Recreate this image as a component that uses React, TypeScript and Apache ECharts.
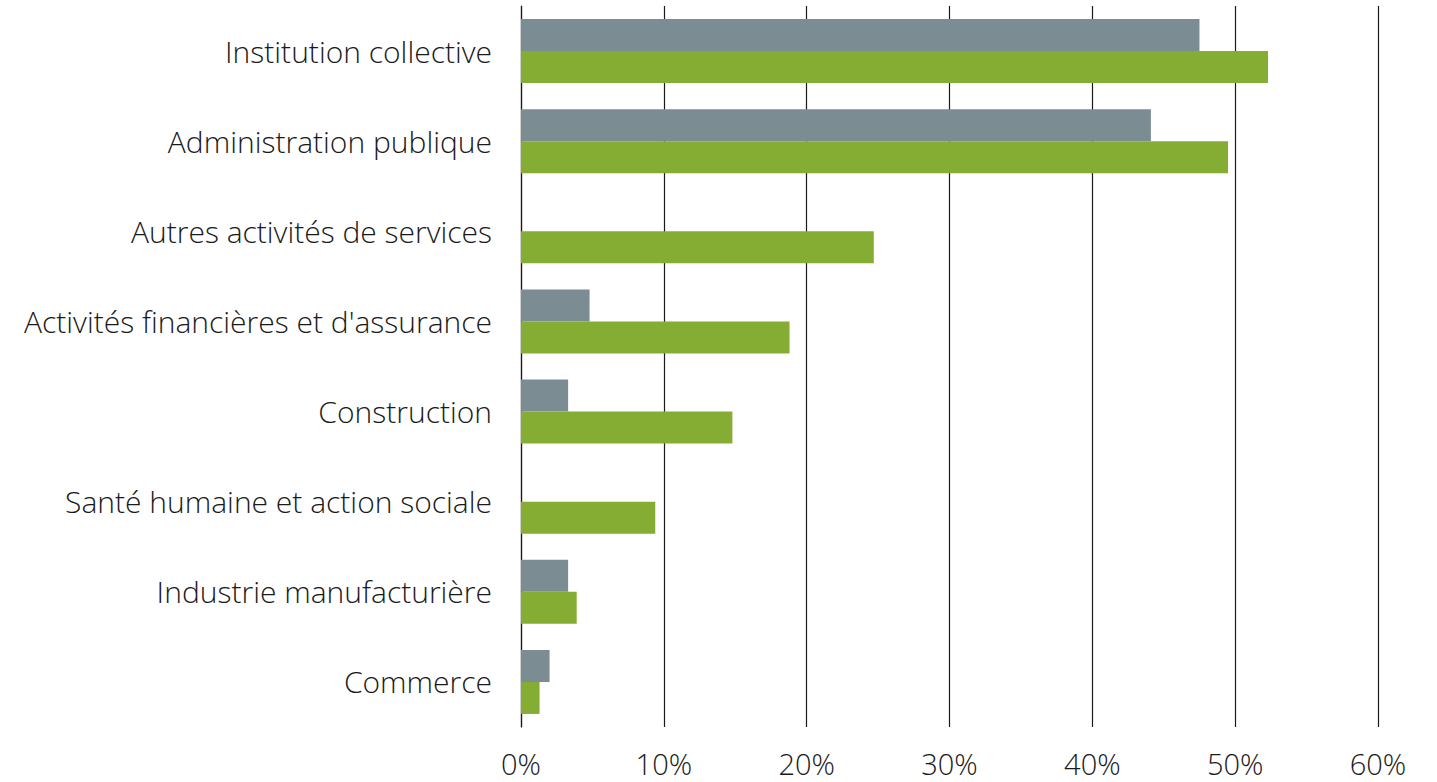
import React, { useEffect, useRef } from "react";
import * as echarts from "echarts";

const categories = [
  "Institution collective",
  "Administration publique",
  "Autres activités de services",
  "Activités financières et d'assurance",
  "Construction",
  "Santé humaine et action sociale",
  "Industrie manufacturière",
  "Commerce",
];
const seriesGray = [47.5, 44.1, null, 4.8, 3.3, null, 3.3, 2.0];
const seriesGreen = [52.3, 49.5, 24.7, 18.8, 14.8, 9.4, 3.9, 1.3];
const xTicks = [0, 10, 20, 30, 40, 50, 60];

export default function App() {
  const ref = useRef<HTMLDivElement>(null);
  useEffect(() => {
    document.body.style.margin = "0";
    const chart = echarts.init(ref.current!, undefined, { renderer: "svg" });
    const font = "'Open Sans', 'Noto Sans', sans-serif";
    chart.setOption({
      animation: false,
      backgroundColor: "#ffffff",
      grid: { left: 521, right: 59, top: 6, bottom: 55, containLabel: false },
      xAxis: {
        type: "value",
        min: xTicks[0],
        max: xTicks[xTicks.length - 1],
        interval: 10,
        axisLine: { show: false },
        axisTick: { show: false },
        splitLine: { show: true, lineStyle: { color: "#1a1a1a", width: 1.2 } },
        axisLabel: {
          formatter: (v: number) => v + "%",
          color: "#1a1a1a",
          fontSize: 29,
          fontFamily: font,
          fontWeight: 300,
          margin: 22,
        },
      },
      yAxis: {
        type: "category",
        data: categories,
        inverse: true,
        axisLine: { show: true, lineStyle: { color: "#1a1a1a", width: 1.2 } },
        axisTick: { show: false },
        axisLabel: {
          color: "#1a1a1a",
          fontSize: 30,
          fontFamily: font,
          fontWeight: 300,
          margin: 29,
        },
      },
      series: [
        {
          type: "bar",
          data: seriesGray,
          itemStyle: { color: "#7b8c92" },
          barGap: "0%",
          barCategoryGap: "29%",
        },
        {
          type: "bar",
          data: seriesGreen,
          itemStyle: { color: "#85ad33" },
          barGap: "0%",
          barCategoryGap: "29%",
        },
      ],
    });
    return () => chart.dispose();
  }, []);
  return <div ref={ref} style={{ width: 1437, height: 782, position: "absolute", left: 0, top: 0 }} />;
}
